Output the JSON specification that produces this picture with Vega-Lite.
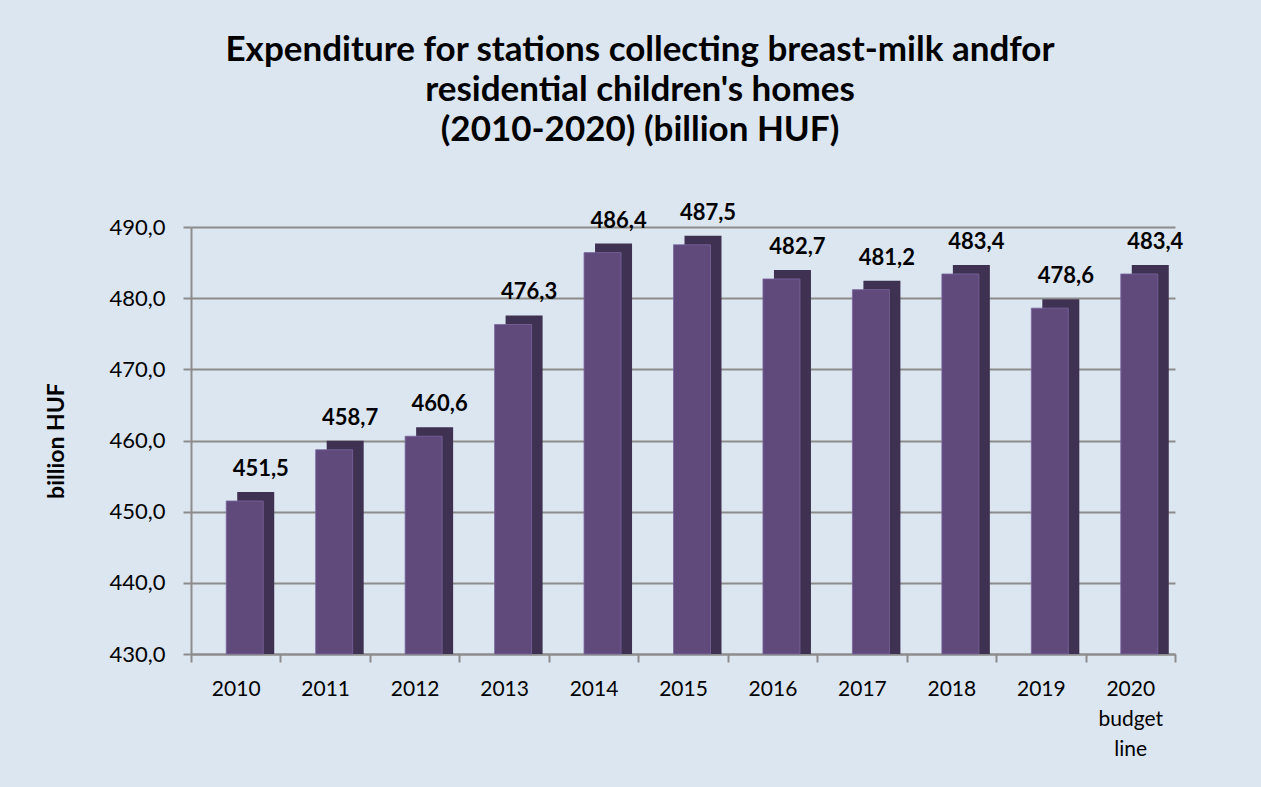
{
  "$schema": "https://vega.github.io/schema/vega-lite/v6.json",
  "width": 984,
  "height": 427,
  "autosize": {"type": "none"},
  "padding": {"left": 191, "top": 227, "right": 86, "bottom": 133},
  "background": "#dce6f1",
  "title": {
    "text": ["Expenditure for stations collecting breast-milk andfor", "residential children's homes", "(2010-2020) (billion HUF)"],
    "font": "Lato",
    "fontSize": 35,
    "fontWeight": "bold",
    "color": "#000000",
    "lineHeight": 40,
    "offset": 54,
    "dx": -43,
    "anchor": "middle"
  },
  "data": {
    "values": [
      {"year": "2010", "value": 451.5},
      {"year": "2011", "value": 458.7},
      {"year": "2012", "value": 460.6},
      {"year": "2013", "value": 476.3},
      {"year": "2014", "value": 486.4},
      {"year": "2015", "value": 487.5},
      {"year": "2016", "value": 482.7},
      {"year": "2017", "value": 481.2},
      {"year": "2018", "value": 483.4},
      {"year": "2019", "value": 478.6},
      {"year": "2020", "value": 483.4}
    ]
  },
  "encoding": {
    "x": {
      "field": "year",
      "type": "nominal",
      "sort": null,
      "scale": {"paddingInner": 0, "paddingOuter": 0},
      "axis": {
        "title": null,
        "labelAngle": 0,
        "labelFont": "Lato",
        "labelFontSize": 21,
        "labelColor": "#000000",
        "labelPadding": 16,
        "labelLineHeight": 30,
        "labelExpr": "datum.value == '2020' ? ['2020', 'budget', 'line'] : datum.value",
        "tickBand": "extent",
        "tickSize": 8,
        "tickColor": "#8c8c8c",
        "tickWidth": 2,
        "domainColor": "#8c8c8c",
        "domainWidth": 2,
        "grid": false
      }
    },
    "y": {
      "field": "value",
      "type": "quantitative",
      "scale": {"domain": [430, 490], "nice": false, "zero": false},
      "axis": {
        "title": "billion HUF",
        "titleFont": "Lato",
        "titleFontSize": 23,
        "titleFontWeight": "bold",
        "titleColor": "#000000",
        "titlePadding": 40,
        "format": ".1f",
        "values": [430, 440, 450, 460, 470, 480, 490],
        "labelFont": "Lato",
        "labelFontSize": 22,
        "labelColor": "#000000",
        "labelPadding": 18,
        "tickSize": 8,
        "tickColor": "#8c8c8c",
        "tickWidth": 2,
        "domainColor": "#8c8c8c",
        "domainWidth": 2,
        "grid": true,
        "gridColor": "#8c8c8c",
        "gridWidth": 2
      }
    }
  },
  "layer": [
    {
      "mark": {"type": "bar", "size": 37, "xOffset": 20, "yOffset": -9, "color": "#3f3151"},
      "encoding": {"y2": {"datum": 430}}
    },
    {
      "mark": {"type": "bar", "size": 37, "xOffset": 9, "color": "#604a7b", "stroke": "#7a66a0", "strokeWidth": 0.8},
      "encoding": {"y2": {"datum": 430}}
    },
    {
      "mark": {"type": "text", "font": "Lato", "fontSize": 22, "fontWeight": "bold", "color": "#000000", "baseline": "bottom", "dx": 25, "dy": -20},
      "encoding": {"text": {"field": "value", "type": "quantitative", "format": ".1f"}}
    }
  ],
  "config": {
    "locale": {"number": {"decimal": ",", "thousands": " ", "grouping": [3], "currency": ["", ""]}},
    "view": {"stroke": null}
  }
}
